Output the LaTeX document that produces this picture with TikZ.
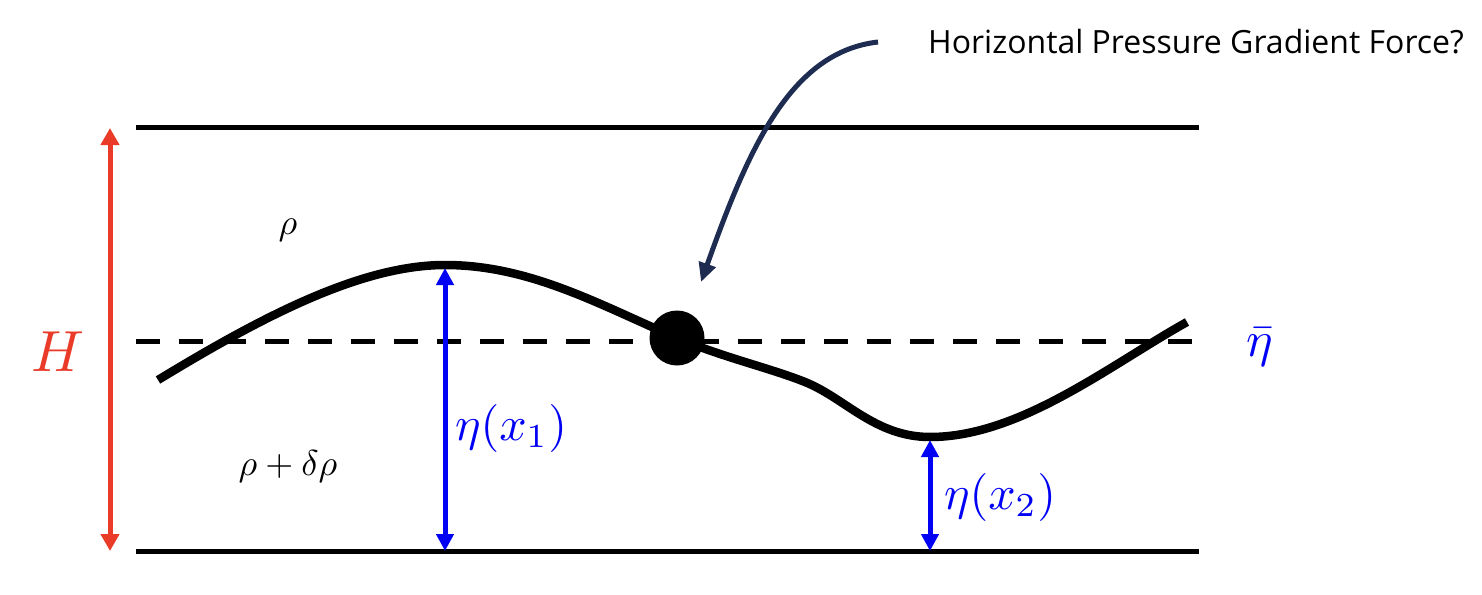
\documentclass[tikz,border=0pt]{standalone}
\usepackage{graphicx}
\usepackage[no-math]{fontspec}
\newfontfamily\osans{Open Sans}
\usetikzlibrary{arrows.meta}
\definecolor{hred}{RGB}{234,59,41}
\definecolor{eblue}{RGB}{0,0,245}
\definecolor{navy}{RGB}{30,44,82}
\tikzset{
  bound/.style={line width=5pt},
  mean/.style={line width=5pt, dash pattern=on 24pt off 19pt},
  wave/.style={line width=8.5pt},
  harrow/.style={line width=5pt, hred, {Triangle[width=18pt,length=17pt]}-{Triangle[width=18pt,length=17pt]}},
  earrow/.style={line width=5pt, eblue, {Triangle[width=17pt,length=17pt]}-{Triangle[width=17pt,length=17pt]}},
  narrow/.style={line width=5pt, navy, -{Triangle[width=17pt,length=19pt]}},
  lab/.style={inner sep=0pt},
}
\newcommand{\mbig}[2]{\scalebox{#1}{$#2$}}
\begin{document}
\begin{tikzpicture}[x=1pt,y=-1pt]
\useasboundingbox (0,0) rectangle (1482,594);
% coordinates
\coordinate (tl) at (136,127); \coordinate (tr) at (1199,127);
\coordinate (bl) at (136,551); \coordinate (br) at (1199,551);
\coordinate (ml) at (136,341); \coordinate (mr) at (1199,341);
\coordinate (ht) at (110,128); \coordinate (hb) at (110,551);
\coordinate (w0) at (158,380);
\coordinate (peak) at (445,265);
\coordinate (dotc) at (677,338);
\coordinate (w3) at (805,382);
\coordinate (trough) at (930,437);
\coordinate (w5) at (1187,322);
\coordinate (e1t) at (445,268);
\coordinate (e1b) at (445,551);
\coordinate (e2t) at (930,440);
\coordinate (e2b) at (930,551);
\coordinate (as) at (878,42);
\coordinate (at) at (701,282);
% lines
\draw[bound] (tl) -- (tr);
\draw[bound] (bl) -- (br);
\draw[mean] (ml) -- (mr);
% wave
\draw[wave] (w0) .. controls (260,318) and (360,265) .. (peak)
  .. controls (530,265) and (600,305) .. (dotc)
  .. controls (725,358) and (770,368) .. (w3)
  .. controls (845,398) and (875,437) .. (trough)
  .. controls (1020,437) and (1110,365) .. (w5);
\fill (dotc) circle (27.5pt);
\node[circle, minimum size=55pt, inner sep=0pt] (dot) at (dotc) {};
% arrows
\draw[harrow] (ht) -- (hb);
\draw[earrow] (e1t) -- (e1b);
\draw[earrow] (e2t) -- (e2b);
\draw[narrow] (as) .. controls (790,52) and (748,150) .. (at);
% labels
\node[lab, text=hred] (H) at (58,352) {\mbig{5.8}{H}};
\node[lab, text=eblue] (eta1) at (511,428) {\mbig{4.8}{\eta(x_1)}};
\node[lab, text=eblue] (eta2) at (1000,497) {\mbig{4.8}{\eta(x_2)}};
\node[lab, text=eblue] (etabar) at (1260,347) {\mbig{5}{\bar{\eta}}};
\node[lab] (rho) at (288,230) {\mbig{3.6}{\rho}};
\node[lab] (rhod) at (288,466) {\mbig{3.6}{\rho+\delta\rho}};
\node[lab, anchor=base west, font=\osans\fontsize{32}{32}\selectfont] (hpgf) at (928,53) {Horizontal Pressure Gradient Force?};
\end{tikzpicture}
\end{document}
